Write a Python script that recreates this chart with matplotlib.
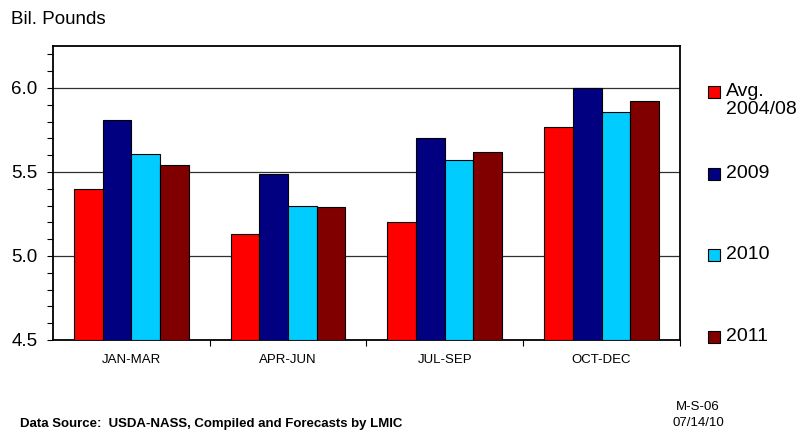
import numpy as np
import matplotlib
matplotlib.use("Agg")
import matplotlib.pyplot as plt
from matplotlib.patches import Rectangle
from matplotlib import font_manager
from matplotlib.ticker import MultipleLocator, FixedLocator

plt.rcParams['font.family'] = ['Liberation Sans', 'DejaVu Sans']

names = {f.name for f in font_manager.fontManager.ttflist}
narrow = 'Liberation Sans Narrow' if 'Liberation Sans Narrow' in names else 'Liberation Sans'

# data (billion pounds, quarterly)
quarters = ['JAN-MAR', 'APR-JUN', 'JUL-SEP', 'OCT-DEC']
series_labels = ['Avg.\n2004/08', '2009', '2010', '2011']
avg_0408 = [5.40, 5.13, 5.20, 5.77]
y2009 = [5.81, 5.49, 5.70, 6.00]
y2010 = [5.61, 5.30, 5.57, 5.86]
y2011 = [5.54, 5.29, 5.62, 5.92]
colors = ['#FF0000', '#000080', '#00CCFF', '#800000']

all_series = [avg_0408, y2009, y2010, y2011]

fig = plt.figure(figsize=(7.98, 4.36), dpi=100)
ax = fig.add_axes([0.0664, 0.2202, 0.7856, 0.6743])

x = np.arange(len(quarters))
w = 0.183
for i, vals in enumerate(all_series):
    ax.bar(x + (i - 1.5) * w, np.array(vals) - 4.5, w, bottom=4.5,
           color=colors[i], edgecolor='black', linewidth=0.8, zorder=3)

ax.set_xlim(-0.5, 3.5)
ax.set_ylim(4.5, 6.25)

# horizontal grid lines
for g in [5.0, 5.5, 6.0]:
    ax.axhline(g, color='#303030', linewidth=0.9, zorder=1)

ax.yaxis.set_major_locator(FixedLocator([4.5, 5.0, 5.5, 6.0]))
ax.yaxis.set_minor_locator(MultipleLocator(0.1))
ax.set_yticklabels(['4.5', '5.0', '5.5', '6.0'], fontsize=13.5)
ax.tick_params(axis='y', which='both', direction='out', length=4, width=0.8, pad=7)

ax.set_xticks(x)
ax.set_xticklabels(quarters, fontsize=9.5, family=narrow)
ax.xaxis.set_minor_locator(FixedLocator([0.5, 1.5, 2.5, 3.5]))
ax.tick_params(axis='x', which='major', length=0, pad=10)
ax.tick_params(axis='x', which='minor', direction='out', length=4, width=0.8)

for s in ax.spines.values():
    s.set_linewidth(1.3)

fig.text(11 / 798, 1 - 20 / 436, 'Bil. Pounds', fontsize=13.5, va='center', ha='left')

# legend
leg_y = [92, 174, 255, 337]
for c, lab, yy in zip(colors, series_labels, leg_y):
    fig.patches.append(Rectangle((708 / 798, 1 - (yy + 6) / 436), 12 / 798, 12 / 436,
                                 transform=fig.transFigure, facecolor=c,
                                 edgecolor='black', linewidth=0.8))
    fig.text(726 / 798, 1 - (yy - 9) / 436, lab, fontsize=14, va='top', ha='left',
             linespacing=1.1)

fig.text(20 / 798, 1 - 424 / 436, 'Data Source:  USDA-NASS, Compiled and Forecasts by LMIC',
         fontsize=9.5, fontweight='bold', va='center', ha='left', family=narrow)
fig.text(698 / 798, 1 - 407 / 436, 'M-S-06', fontsize=9.5, va='center', ha='center', family=narrow)
fig.text(698 / 798, 1 - 423 / 436, '07/14/10', fontsize=9.5, va='center', ha='center', family=narrow)

fig.savefig('out.png', dpi=100)
